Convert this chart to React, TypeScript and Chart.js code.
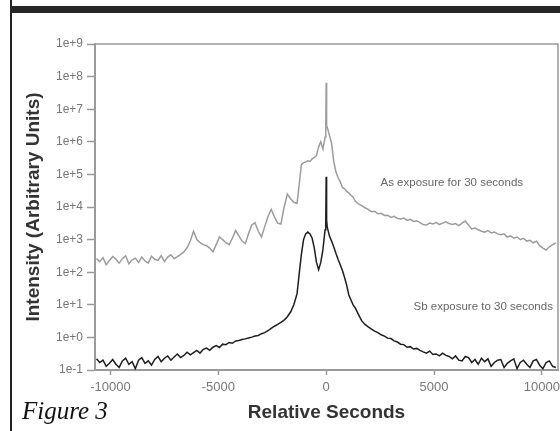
import React, { useEffect, useRef } from 'react';
import { Chart, registerables } from 'chart.js';

Chart.register(...registerables);

const FONT = '"Liberation Sans", Arial, sans-serif';

// Relative seconds (shared x positions of both traces)
const seconds = [
  -10650, -10500, -10350, -10200, -10050, -9900, -9750, -9600, -9450, -9300,
  -9150, -9000, -8850, -8700, -8550, -8400, -8250, -8100, -7950, -7800,
  -7650, -7500, -7350, -7200, -7050, -6900, -6750, -6600, -6450, -6300,
  -6150, -6000, -5850, -5700, -5550, -5400, -5250, -5100, -4950, -4800,
  -4650, -4500, -4350, -4200, -4050, -3900, -3750, -3600, -3450, -3300,
  -3150, -3000, -2850, -2700, -2550, -2400, -2250, -2100, -1950, -1800,
  -1650, -1500, -1350,
  -1250, -1150, -1050, -950, -850, -750, -650, -550, -450, -350,
  -250, -150, -50, -20, 0, 20, 50, 150, 250, 350,
  450, 550, 650, 750, 850, 950, 1050, 1150, 1250,
  1350, 1500, 1650, 1800, 1950, 2100, 2250, 2400, 2550, 2700,
  2850, 3000, 3150, 3300, 3450, 3600, 3750, 3900, 4050, 4200,
  4350, 4500, 4650, 4800, 4950, 5100, 5250, 5400, 5550, 5700,
  5850, 6000, 6150, 6300, 6450, 6600, 6750, 6900, 7050, 7200,
  7350, 7500, 7650, 7800, 7950, 8100, 8250, 8400, 8550, 8700,
  8850, 9000, 9150, 9300, 9450, 9600, 9750, 9900, 10050, 10200,
  10350, 10500, 10650,
];

// As exposure for 30 seconds (grey trace)
const asIntensity = [
  260, 210, 280, 170, 230, 300, 250, 190, 260, 320,
  180, 240, 270, 200, 290, 220, 190, 310, 250, 230,
  320, 210, 290, 340, 260, 300, 350, 420, 560, 900,
  1800, 1000, 800, 700, 650, 550, 420, 700, 1200, 1000,
  800, 700, 1100, 1900, 1300, 900, 760, 1500, 2800, 3300,
  1800, 1200, 2500, 5000, 8500, 5000, 3200, 3000, 10000, 25000,
  18000, 14000, 13000,
  50000, 200000, 230000, 240000, 260000, 250000, 300000, 330000, 380000, 700000,
  1000000, 600000, 1400000, 2000000, 65000000, 3000000, 2800000, 1600000, 900000, 250000,
  120000, 80000, 60000, 40000, 36000, 30000, 27000, 23000, 20000,
  15000, 12500, 11000, 9500, 8500, 7200, 7400, 6200, 6400, 5500,
  5600, 4800, 5200, 4500, 4300, 4600, 3900, 4200, 3600, 3800,
  3300, 2900, 2800, 3200, 3000, 3400, 2900, 3200, 3500, 3100,
  2900, 3100, 2700, 3200, 3700, 2800, 2100, 2300, 2000, 1800,
  1700, 1900, 1600, 1700, 1500, 1400, 1500, 1200, 1300, 1100,
  1200, 1000, 1100, 900, 950, 800, 900, 650, 550, 480,
  600, 700, 800,
];

// Sb exposure to 30 seconds (black trace)
const sbIntensity = [
  0.22, 0.17, 0.2, 0.13, 0.16, 0.21, 0.15, 0.12, 0.19, 0.23,
  0.15, 0.18, 0.11, 0.2, 0.24, 0.16, 0.19, 0.14, 0.21, 0.26,
  0.18, 0.23, 0.27, 0.2, 0.25, 0.31, 0.24, 0.28, 0.35, 0.29,
  0.34, 0.4, 0.33, 0.43, 0.47, 0.4, 0.5, 0.56, 0.49, 0.62,
  0.6, 0.7, 0.66, 0.78, 0.8, 0.86, 0.9, 0.96, 1.02, 1.1,
  1.15, 1.3, 1.4, 1.6, 1.9, 2.2, 2.5, 2.9, 3.4, 4.3,
  6, 10, 22,
  90, 350, 1000, 1500, 1700, 1500, 1100, 550, 200, 120,
  200, 500, 2000, 3000, 85000, 4000, 2400, 1300, 900, 600,
  380, 250, 170, 115, 70, 40, 20, 14, 10,
  8, 5, 3.2, 2.5, 2.1, 1.8, 1.55, 1.4, 1.2, 1.1,
  0.95, 0.92, 0.78, 0.72, 0.62, 0.6, 0.5, 0.52, 0.44, 0.46,
  0.4, 0.36, 0.33, 0.38, 0.3, 0.31, 0.27, 0.33, 0.28, 0.26,
  0.22, 0.27, 0.2, 0.19, 0.26, 0.24, 0.17, 0.21, 0.15, 0.23,
  0.18, 0.22, 0.13, 0.17, 0.2, 0.21, 0.12, 0.16, 0.19, 0.22,
  0.11, 0.17, 0.2, 0.15, 0.12, 0.19, 0.21, 0.14, 0.11, 0.17,
  0.19, 0.13, 0.12,
];

const xTickValues = [-10000, -5000, 0, 5000, 10000];
const yTickValues = [1e-1, 1e0, 1e1, 1e2, 1e3, 1e4, 1e5, 1e6, 1e7, 1e8, 1e9];
const yTickLabels = ['1e-1', '1e+0', '1e+1', '1e+2', '1e+3', '1e+4', '1e+5', '1e+6', '1e+7', '1e+8', '1e+9'];

const seriesNames = ['As exposure for 30 seconds', 'Sb exposure to 30 seconds'];
const labelSeconds = [5824, 7282];
const labelIntensity = [5.5e4, 8.7];

const framePlugin = {
  id: 'frameAndLabels',
  afterDatasetsDraw(chart: any) {
    const { ctx, chartArea: a, scales } = chart;
    ctx.save();
    ctx.strokeStyle = '#9a9a9a';
    ctx.lineWidth = 1.5;
    ctx.beginPath();
    ctx.moveTo(a.left, a.top);
    ctx.lineTo(a.right, a.top);
    ctx.lineTo(a.right, a.bottom);
    ctx.stroke();
    ctx.fillStyle = '#666';
    ctx.font = `11.5px ${FONT}`;
    ctx.textAlign = 'center';
    ctx.textBaseline = 'middle';
    seriesNames.forEach((t, i) => {
      ctx.fillText(t, scales.x.getPixelForValue(labelSeconds[i]), scales.y.getPixelForValue(labelIntensity[i]));
    });
    ctx.restore();
  },
};

export default function App() {
  const ref = useRef<HTMLCanvasElement | null>(null);

  useEffect(() => {
    if (!ref.current) return;
    const chart = new Chart(ref.current, {
      type: 'line',
      data: {
        datasets: [
          {
            label: seriesNames[0],
            data: seconds.map((s, i) => ({ x: s, y: asIntensity[i] })),
            borderColor: '#9c9c9c',
            borderWidth: 1.5,
            pointRadius: 0,
            tension: 0,
          },
          {
            label: seriesNames[1],
            data: seconds.map((s, i) => ({ x: s, y: sbIntensity[i] })),
            borderColor: '#1e1e1e',
            borderWidth: 1.5,
            pointRadius: 0,
            tension: 0,
          },
        ],
      },
      options: {
        animation: false,
        responsive: false,
        layout: { padding: { top: 44, right: 2, left: 0, bottom: 0 } },
        plugins: { legend: { display: false }, tooltip: { enabled: false } },
        scales: {
          x: {
            type: 'linear',
            min: -10720,
            max: 10750,
            afterBuildTicks: (scale: any) => {
              scale.ticks = xTickValues.map((v) => ({ value: v }));
            },
            afterFit: (scale: any) => {
              scale.height = 61;
              scale.paddingLeft = 0;
              scale.paddingRight = 0;
            },
            ticks: {
              color: '#777',
              font: { family: FONT, size: 13 },
              padding: 5,
              maxRotation: 0,
              autoSkip: false,
              callback: (v: any) => String(v),
            },
            grid: { drawOnChartArea: false, drawTicks: true, tickLength: 5, tickColor: '#999', tickWidth: 1.5 },
            border: { color: '#9a9a9a', width: 2 },
            title: {
              display: true,
              text: 'Relative Seconds',
              color: '#333',
              font: { family: FONT, size: 19, weight: 'bold' },
              padding: { top: 0, bottom: 7 },
            },
          },
          y: {
            type: 'logarithmic',
            min: 0.1,
            max: 1e9,
            afterBuildTicks: (scale: any) => {
              scale.ticks = yTickValues.map((v) => ({ value: v }));
            },
            afterFit: (scale: any) => {
              scale.width = 95;
              scale.paddingTop = 0;
              scale.paddingBottom = 0;
            },
            ticks: {
              color: '#777',
              font: { family: FONT, size: 12 },
              padding: 4,
              autoSkip: false,
              callback: (v: any) => {
                const i = yTickValues.findIndex((t) => Math.abs(Math.log10(t) - Math.log10(v)) < 1e-6);
                return i >= 0 ? yTickLabels[i] : null;
              },
            },
            grid: { drawOnChartArea: false, drawTicks: true, tickLength: 8, tickColor: '#999', tickWidth: 1.5 },
            border: { color: '#9a9a9a', width: 2 },
            title: {
              display: true,
              text: 'Intensity (Arbitrary Units)',
              color: '#333',
              font: { family: FONT, size: 19, weight: 'bold' },
              padding: { top: 22, bottom: 0 },
            },
          },
        },
      },
      plugins: [framePlugin],
    });
    return () => chart.destroy();
  }, []);

  return (
    <div style={{ position: 'absolute', left: 0, top: 0, width: 560, height: 431, background: '#fff', overflow: 'hidden' }}>
      <canvas ref={ref} width={560} height={431} style={{ position: 'absolute', left: 0, top: 0, width: 560, height: 431 }} />
      <div style={{ position: 'absolute', left: 10, top: 0, width: 2, height: 431, background: '#222' }} />
      <div style={{ position: 'absolute', left: 10, top: 6, width: 550, height: 7, background: '#262626' }} />
      <div
        style={{
          position: 'absolute',
          left: 22,
          top: 398,
          fontFamily: '"Liberation Serif", "Times New Roman", serif',
          fontStyle: 'italic',
          fontSize: 25,
          lineHeight: '25px',
          color: '#111',
          whiteSpace: 'nowrap',
        }}
      >
        Figure 3
      </div>
    </div>
  );
}
